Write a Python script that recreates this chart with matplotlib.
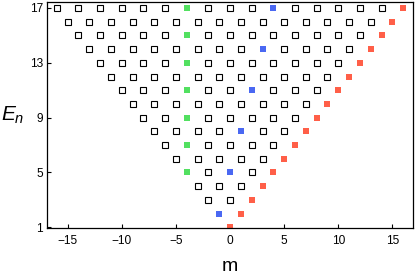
import matplotlib
matplotlib.use("Agg")
import matplotlib.pyplot as plt

plt.rcParams["font.family"] = ["Liberation Sans", "DejaVu Sans"]
plt.rcParams["mathtext.fontset"] = "custom"
plt.rcParams["mathtext.it"] = "Liberation Sans:italic"
plt.rcParams["mathtext.rm"] = "Liberation Sans"

# energy levels E_n and highest |m| on each level (m runs -m_max..m_max in steps of 2)
levels = list(range(1, 18))
m_max = [0, 1, 2, 3, 4, 5, 6, 7, 8, 9, 10, 11, 12, 13, 14, 15, 16]

# highlighted states
red_E = [1, 2, 3, 4, 5, 6, 7, 8, 9, 10, 11, 12, 13, 14, 15, 16, 17]
red_m = [0, 1, 2, 3, 4, 5, 6, 7, 8, 9, 10, 11, 12, 13, 14, 15, 16]
blue_E = [2, 5, 8, 11, 14, 17]
blue_m = [-1, 0, 1, 2, 3, 4]
green_E = [5, 7, 9, 11, 13, 15, 17]
green_m = [-4, -4, -4, -4, -4, -4, -4]

RED, BLUE, GREEN = "#ff5f48", "#4a68f2", "#52e060"

hl = set(zip(red_m, red_E)) | set(zip(blue_m, blue_E)) | set(zip(green_m, green_E))
open_m, open_E = [], []
for E, mm in zip(levels, m_max):
    for m in range(-mm, mm + 1, 2):
        if (m, E) not in hl:
            open_m.append(m); open_E.append(E)

fig = plt.figure(figsize=(4.15, 2.77), dpi=100)
ax = fig.add_axes([0.1133, 0.177, 0.882, 0.814])

ax.plot(open_m, open_E, "s", ms=3.9, mfc="white", mec="black", mew=0.8, ls="none")
ax.plot(red_m, red_E, "s", ms=5.0, color=RED, mew=0, ls="none")
ax.plot(blue_m, blue_E, "s", ms=5.0, color=BLUE, mew=0, ls="none")
ax.plot(green_m, green_E, "s", ms=5.0, color=GREEN, mew=0, ls="none")

ax.set_xlim(-16.9, 16.9)
ax.set_ylim(0.95, 17.4)
ax.set_xticks([-15, -10, -5, 0, 5, 10, 15])
ax.set_xticklabels(["\u221215", "\u221210", "\u22125", "0", "5", "10", "15"])
ax.set_yticks([1, 5, 9, 13, 17])
ax.tick_params(direction="in", length=3, width=0.8, labelsize=8.6, pad=3)
ax.tick_params(axis="x", pad=5)
for s in ax.spines.values():
    s.set_linewidth(0.9)

fig.text(0.031, 0.585, "$E_n$", fontsize=15, ha="center", va="center")
ax.set_xlabel("m", fontsize=14, labelpad=8)

fig.savefig("out.png", dpi=100)
